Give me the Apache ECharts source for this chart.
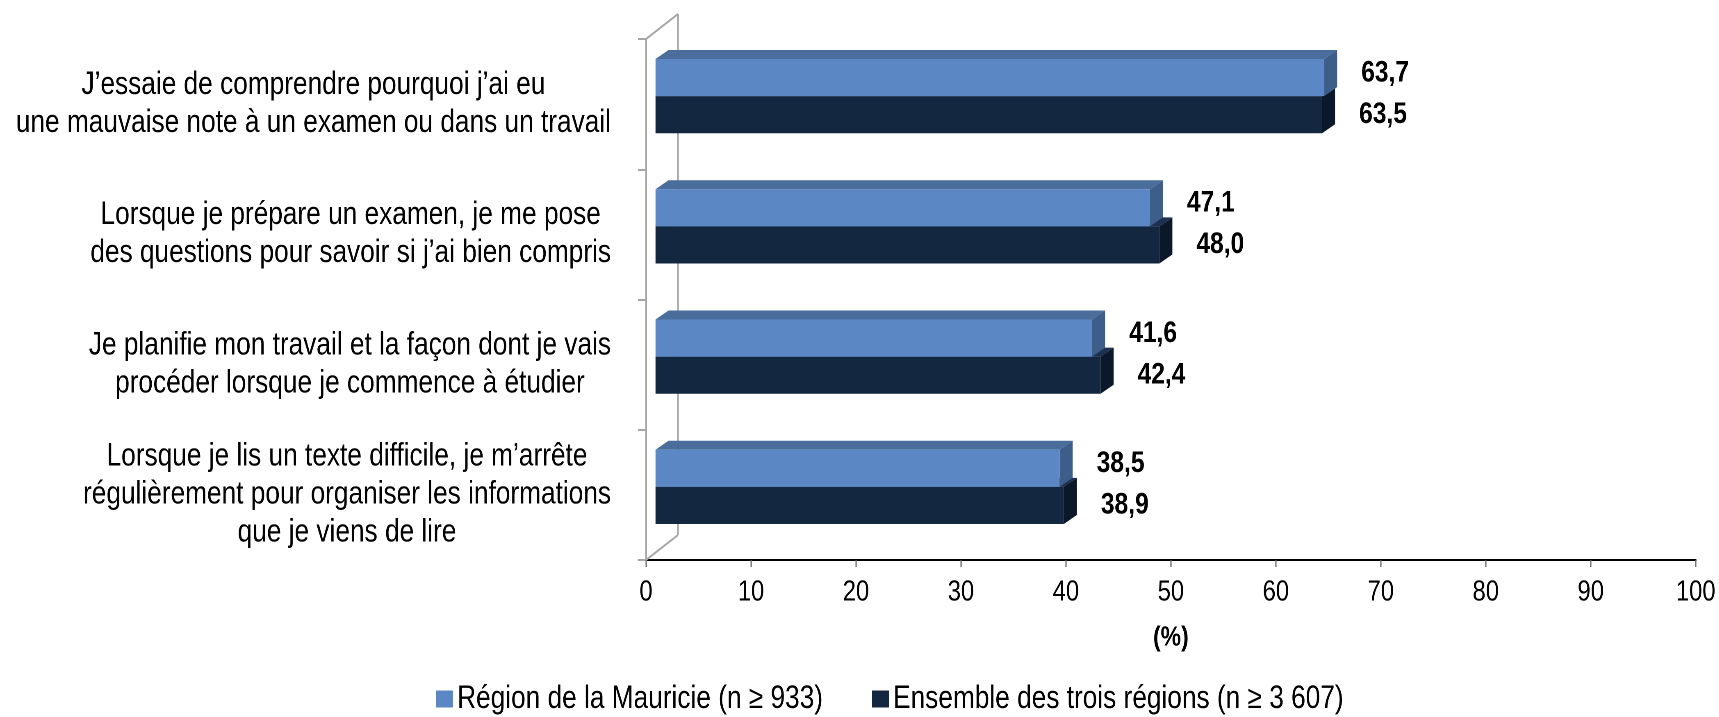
<!DOCTYPE html>
<html>
<head>
<meta charset="utf-8">
<script src="https://cdn.jsdelivr.net/npm/echarts@6/dist/echarts.min.js"></script>
<style>
html,body{margin:0;padding:0;background:#fff;overflow:hidden;width:1719px;height:717px;}
#chart{height:717px;transform-origin:0 0;}
</style>
</head>
<body>
<div id="chart"></div>
<script>
// ---- data ----
const categories = [
  "J’essaie de comprendre pourquoi j’ai eu\nune mauvaise note à un examen ou dans un travail",
  "Lorsque je prépare un examen, je me pose\ndes questions pour savoir si j’ai bien compris",
  "Je planifie mon travail et la façon dont je vais\nprocéder lorsque je commence à étudier",
  "Lorsque je lis un texte difficile, je m’arrête\nrégulièrement pour organiser les informations\nque je viens de lire"
];
const seriesNames = ["Région de la Mauricie (n ≥ 933)", "Ensemble des trois régions (n ≥ 3 607)"];
const mauricie = [63.7, 47.1, 41.6, 38.5];
const ensemble = [63.5, 48.0, 42.4, 38.9];
const axisName = "(%)";

// ---- layout: the reference uses a narrow typeface, emulated by a horizontal squeeze ----
const S = 0.82;                       // horizontal condensation
const W = 1719, H = 717;
const X = px => px / S;               // convert target horizontal px to pre-squeeze px
const el = document.getElementById('chart');
el.style.width = (W / S) + 'px';
el.style.transform = 'scaleX(' + S + ')';

const FONT = "'Liberation Sans', Arial, sans-serif";
const palette = {
  light: {front: '#5b88c4', top: '#4a6d9b', side: '#3e5e8a'},
  dark:  {front: '#132741', top: '#1c3150', side: '#0b1829'}
};
const FX = X(9.5), FY = -8;   // front-face offset inside the 3D box
const DX = X(13), DY = -9;    // bar depth
const WX = X(32), WY = -25;   // wall depth
const LABEL_GAP = X(37);

function fmt(v){ return v.toFixed(1).replace('.', ','); }

function makeRender(kind){
  const col = palette[kind];
  return function(params, api){
    const v = api.value(0), c = api.value(1);
    const p0 = api.coord([0, c]);
    const p1 = api.coord([v, c]);
    const band = api.size([0, 1])[1];
    const h = band * 0.285;
    const yTop = kind === 'light' ? p0[1] + FY - h : p0[1] + FY;
    const x0 = p0[0] + FX, x1 = p1[0] + FX, y0 = yTop, y1 = yTop + h;
    const labelY = kind === 'light' ? (y0 + y1) / 2 - 4.5 : (y0 + y1) / 2;
    return {
      type: 'group',
      children: [
        {type: 'polygon', shape: {points: [[x0, y0], [x1, y0], [x1 + DX, y0 + DY], [x0 + DX, y0 + DY]]},
          style: {fill: col.top}},
        {type: 'polygon', shape: {points: [[x1, y0], [x1 + DX, y0 + DY], [x1 + DX, y1 + DY], [x1, y1]]},
          style: {fill: col.side}},
        {type: 'rect', shape: {x: x0, y: y0, width: x1 - x0, height: h},
          style: {fill: col.front}},
        {type: 'text', style: {text: fmt(v), x: x1 + LABEL_GAP, y: labelY, textAlign: 'left', textVerticalAlign: 'middle',
          font: 'bold 30px ' + FONT, fill: '#000'}}
      ]
    };
  };
}

function wallRender(params, api){
  const cs = params.coordSys;
  const xl = cs.x, yt = cs.y, yb = cs.y + cs.height;
  const st = {stroke: '#a6a6a6', lineWidth: 2};
  return {
    type: 'group',
    children: [
      {type: 'line', shape: {x1: xl, y1: yt, x2: xl + WX, y2: yt + WY}, style: st},
      {type: 'line', shape: {x1: xl + WX, y1: yt + WY, x2: xl + WX, y2: yb + WY}, style: st},
      {type: 'line', shape: {x1: xl, y1: yb, x2: xl + WX, y2: yb + WY}, style: st}
    ]
  };
}

const chart = echarts.init(el, null, {renderer: 'canvas', devicePixelRatio: 2});
chart.setOption({
  backgroundColor: '#ffffff',
  animation: false,
  grid: {left: X(646), right: X(23), top: 39, bottom: 157, containLabel: false, outerBoundsMode: 'none'},
  legend: {
    data: seriesNames,
    left: X(436), top: 683, padding: 0,
    itemWidth: X(17), itemHeight: 17, itemGap: X(49), icon: 'rect',
    textStyle: {fontFamily: FONT, fontSize: 32, color: '#000'}
  },
  xAxis: {
    type: 'value', min: 0, max: 100, interval: 10,
    name: axisName, nameLocation: 'middle', nameGap: 64,
    nameTextStyle: {fontFamily: FONT, fontSize: 28, fontWeight: 'bold', color: '#000'},
    axisLine: {show: true, lineStyle: {color: '#000', width: 2}},
    axisTick: {show: true, length: 7, lineStyle: {color: '#666', width: 1.5}},
    axisLabel: {fontFamily: FONT, fontSize: 29, color: '#000', margin: 18},
    splitLine: {show: false}
  },
  yAxis: {
    type: 'category', inverse: true, data: categories,
    axisLine: {show: true, lineStyle: {color: '#a6a6a6', width: 2}},
    axisTick: {show: true, length: X(8), lineStyle: {color: '#a6a6a6', width: 2}},
    axisLabel: {
      interval: 0, margin: X(35), align: 'right',
      formatter: function(val){ return val.split('\n').map(l => '{c|' + l + '}').join('\n'); },
      rich: {c: {align: 'center', fontFamily: FONT, fontSize: 32, lineHeight: 38, color: '#000'}}
    },
    splitLine: {show: false}
  },
  series: [
    {name: 'wall', type: 'custom', renderItem: wallRender, data: [[0, 0]], silent: true, z: 1,
      encode: {x: 0, y: 1}},
    {name: seriesNames[0], type: 'custom', renderItem: makeRender('light'), z: 4,
      itemStyle: {color: palette.light.front},
      data: mauricie.map((v, i) => [v, i]), encode: {x: 0, y: 1}},
    {name: seriesNames[1], type: 'custom', renderItem: makeRender('dark'), z: 3,
      itemStyle: {color: palette.dark.front},
      data: ensemble.map((v, i) => [v, i]), encode: {x: 0, y: 1}}
  ]
});
</script>
</body>
</html>
